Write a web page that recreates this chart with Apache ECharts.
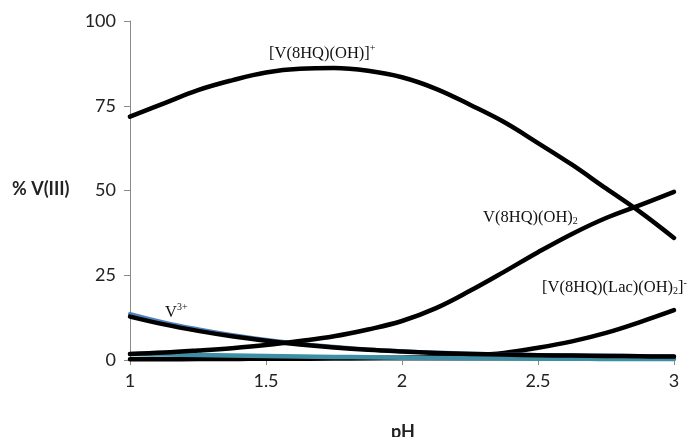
<!DOCTYPE html>
<html><head><meta charset="utf-8">
<script src="https://cdn.jsdelivr.net/npm/echarts@6/dist/echarts.min.js"></script>
<style>html,body{margin:0;padding:0;background:#fff}#c{width:691px;height:437px}</style>
</head><body><div id="c"></div>
<script>
const pH = [1, 1.125, 1.25, 1.375, 1.5, 1.625, 1.75, 1.875, 2, 2.125, 2.25, 2.375, 2.5, 2.625, 2.75, 2.875, 3];
const vOH = [71.8, 75.7, 79.6, 82.5, 84.8, 85.9, 86.1, 85.3, 83.4, 80.0, 75.3, 70.2, 64.0, 57.6, 50.6, 43.7, 36.0];
const vOH2 = [1.8, 2.2, 2.8, 3.5, 4.4, 5.6, 7.0, 9.0, 11.5, 15.3, 20.4, 26.0, 31.8, 37.2, 41.9, 45.7, 49.6];
const v3plus = [12.8, 10.5, 8.6, 7.0, 5.7, 4.6, 3.7, 3.0, 2.5, 2.1, 1.8, 1.6, 1.4, 1.3, 1.2, 1.1, 1.0];
const v3plusShade = [13.6, 11.1, 9.1, 7.4, 6.0, 4.8, 3.9, 3.1, 2.6, 2.2, 1.9, 1.7, 1.5, 1.4, 1.3, 1.2, 1.1];
const vLac = [0.2, 0.2, 0.3, 0.3, 0.4, 0.4, 0.5, 0.6, 0.7, 0.9, 1.3, 2.1, 3.6, 5.5, 8.0, 11.2, 14.7];
const vTeal = [1.8, 1.6, 1.5, 1.3, 1.2, 1.0, 0.9, 0.8, 0.7, 0.6, 0.5, 0.5, 0.4, 0.4, 0.3, 0.3, 0.3];
const yTicks = [0, 25, 50, 75, 100];
const xTicks = [1, 1.5, 2, 2.5, 3];

const chart = echarts.init(document.getElementById('c'));
const pts = arr => pH.map((x, i) => [x, arr[i]]);
function line(arr, color, width, z) {
  return { type: 'line', data: pts(arr), smooth: 0.4, showSymbol: false, symbol: 'none', z: z,
    lineStyle: { color: color, width: width, cap: 'round', join: 'round' }, silent: true, animation: false };
}
chart.setOption({
  animation: false,
  grid: { left: 130, right: 17, top: 21, bottom: 77 },
  xAxis: { type: 'value', min: 1, max: 3, interval: 0.5,
    axisLine: { show: true, lineStyle: { color: '#8a8a8a', width: 1 } },
    axisTick: { show: true, length: 5, lineStyle: { color: '#8a8a8a' } },
    axisLabel: { margin: 12, color: '#222', fontFamily: 'Lato', fontSize: 18,
      formatter: v => xTicks.includes(v) ? String(v) : '' },
    splitLine: { show: false } },
  yAxis: { type: 'value', min: 0, max: 100, interval: 25,
    axisLine: { show: true, lineStyle: { color: '#8a8a8a', width: 1 } },
    axisTick: { show: true, length: 6, lineStyle: { color: '#8a8a8a' } },
    axisLabel: { margin: 14, color: '#222', fontFamily: 'Lato', fontSize: 18,
      formatter: v => yTicks.includes(v) ? String(v) : '' },
    splitLine: { show: false } },
  series: [
    line(vLac, '#000', 4.5, 3),
    line(vTeal, '#3f8fa4', 4.5, 4),
    line(v3plusShade, '#4f81bd', 4, 4),
    line(v3plus, '#000', 4.5, 5),
    line(vOH2, '#000', 4.5, 5),
    line(vOH, '#000', 4.5, 5)
  ]
});

const serif = 'Liberation Serif';
function lbl(x, y, text, rich) {
  const p = chart.convertToPixel({ gridIndex: 0 }, [x, y]);
  return { type: 'text', left: p[0], top: p[1] - 9, z: 10,
    style: { text: text, font: '16px ' + serif, fill: '#111', rich: rich } };
}
const rich = {
  n: { fontFamily: serif, fontSize: 16.5, color: '#111', verticalAlign: 'bottom', lineHeight: 18 },
  sup: { fontFamily: serif, fontSize: 10, color: '#111', verticalAlign: 'top', lineHeight: 18, padding: [0, 0, 8, 0] },
  sub: { fontFamily: serif, fontSize: 10, color: '#111', verticalAlign: 'bottom', lineHeight: 18, padding: [4, 0, 0, 0] }
};
chart.setOption({
  graphic: [
    lbl(1.511, 90.6, '{n|[V(8HQ)(OH)]}{sup|+}', rich),
    lbl(2.298, 41.9, '{n|V(8HQ)(OH)}{sub|2}', rich),
    lbl(2.515, 21.5, '{n|[V(8HQ)(Lac)(OH)}{sub|2}{n|]}{sup|-}', rich),
    lbl(1.129, 14.2, '{n|V}{sup|3+}', rich),
    { type: 'text', left: 12, top: 180, style: { text: '% V(III)', font: 'bold 18px Lato', fill: '#222' } },
    { type: 'text', left: 391, top: 423, style: { text: 'pH', font: 'bold 18px Lato', fill: '#222' } }
  ]
});
</script></body></html>
